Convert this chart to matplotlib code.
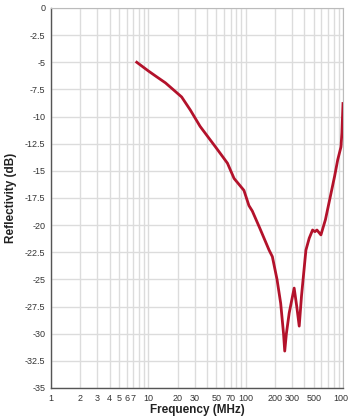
import numpy as np
import matplotlib.pyplot as plt
from matplotlib.ticker import FixedLocator, NullFormatter, NullLocator

# reflectivity curve
freq_mhz = [7.6, 10, 12, 15, 19, 22, 27, 34, 42, 49, 57, 65, 76, 96, 108, 117, 140,
            174, 188, 210, 229, 245, 252, 262, 280, 315, 335, 355, 375, 416, 450,
            487, 515, 540, 593, 660, 752, 820, 882, 953, 975, 1000]
refl_db = [-5.0, -5.8, -6.3, -6.9, -7.7, -8.2, -9.4, -10.9, -12.0, -12.8, -13.6, -14.3,
           -15.7, -16.8, -18.2, -18.7, -20.3, -22.3, -22.9, -25.0, -27.2, -30.0, -31.6,
           -30.0, -28.1, -25.8, -27.5, -29.3, -26.5, -22.3, -21.2, -20.45, -20.6,
           -20.45, -20.9, -19.5, -17.1, -15.5, -14.0, -12.8, -11.5, -8.8]

x_ticks = [1, 2, 3, 4, 5, 6, 7, 10, 20, 30, 50, 70, 100, 200, 300, 500, 1000]
x_grid = [m * 10 ** e for e in range(0, 3) for m in range(2, 10)]
y_ticks = [0, -2.5, -5, -7.5, -10, -12.5, -15, -17.5, -20, -22.5, -25, -27.5, -30, -32.5, -35]

plt.rcParams['font.family'] = ['Liberation Sans', 'DejaVu Sans']

fig = plt.figure(figsize=(3.48, 4.19), dpi=100)
ax = fig.add_axes([0.1466, 0.074, 0.839, 0.907])

ax.plot(freq_mhz, refl_db, color="#b3122b", linewidth=2.0, solid_joinstyle="round", zorder=3)

ax.set_xscale("log")
ax.set_xlim(1, 1000)
ax.set_ylim(-35, 0)

ax.xaxis.set_major_locator(FixedLocator(x_ticks))
ax.set_xticklabels([str(t) for t in x_ticks])
ax.xaxis.set_minor_locator(FixedLocator(x_grid))
ax.xaxis.set_minor_formatter(NullFormatter())
ax.set_yticks(y_ticks)
ax.set_yticklabels([f"{t:g}" for t in y_ticks])
ax.yaxis.set_minor_locator(NullLocator())

ax.grid(True, which="both", axis="x", color="#dcdcdc", linewidth=1.0)
ax.grid(True, which="major", axis="y", color="#dcdcdc", linewidth=1.0)
ax.tick_params(which="both", length=0, labelsize=6.5, colors="#333333", pad=4)

for side in ["left", "bottom"]:
    ax.spines[side].set_color("#555555")
    ax.spines[side].set_linewidth(1.0)
for side in ["top", "right"]:
    ax.spines[side].set_color("#bbbbbb")
    ax.spines[side].set_linewidth(0.8)

ax.set_xlabel("Frequency (MHz)", fontsize=8.5, fontweight="bold", color="#222222", labelpad=1)
ax.set_ylabel("Reflectivity (dB)", fontsize=8.5, fontweight="bold", color="#222222", labelpad=6)

fig.savefig("out.png", dpi=100)
